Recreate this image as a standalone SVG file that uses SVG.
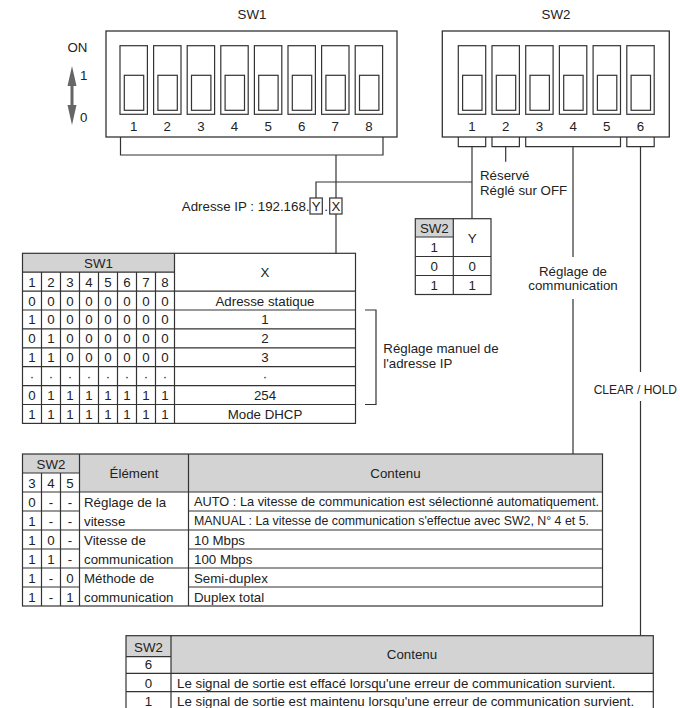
<svg xmlns="http://www.w3.org/2000/svg" xmlns:xlink="http://www.w3.org/1999/xlink" width="680" height="708" viewBox="0 0 680 708">
<style>
.t{font-family:"Liberation Sans",Arial,sans-serif;font-size:13.3px;fill:#222}
.s{font-size:12.6px}
.c{text-anchor:middle}
.e{text-anchor:end}
.ln{fill:none;stroke:#333;stroke-width:1.2}
.bx{fill:#fff;stroke:#333;stroke-width:1.3}
.hd{fill:#d3d3d3}
</style>
<defs>
<g id="dip">
<rect x="0" y="0" width="27.4" height="68.6" class="ln"/>
<rect x="4.3" y="29.6" width="19.4" height="35" class="ln"/>
</g>
</defs>
<rect width="680" height="708" fill="#fff"/>

<g id="indicator">
<text class="t" x="67.5" y="52">ON</text>
<polygon points="72,66 76.5,86 73.5,86 73.5,105 76.5,105 72,125 67.5,105 70.5,105 70.5,86 67.5,86" fill="#666"/>
<text class="t" x="80" y="80">1</text>
<text class="t" x="80" y="122">0</text>
</g>

<g id="sw1">
<text class="t c" x="252" y="19">SW1</text>
<rect x="106" y="31" width="291" height="106" class="bx"/>
<use xlink:href="#dip" x="120" y="45.7"/>
<use xlink:href="#dip" x="153.6" y="45.7"/>
<use xlink:href="#dip" x="187.2" y="45.7"/>
<use xlink:href="#dip" x="220.8" y="45.7"/>
<use xlink:href="#dip" x="254.4" y="45.7"/>
<use xlink:href="#dip" x="288" y="45.7"/>
<use xlink:href="#dip" x="321.6" y="45.7"/>
<use xlink:href="#dip" x="355.2" y="45.7"/>
<g class="t c">
<text x="133.7" y="131">1</text><text x="167.3" y="131">2</text><text x="200.9" y="131">3</text><text x="234.5" y="131">4</text>
<text x="268.1" y="131">5</text><text x="301.7" y="131">6</text><text x="335.3" y="131">7</text><text x="368.9" y="131">8</text>
</g>
</g>

<g id="sw2">
<text class="t c" x="556" y="19">SW2</text>
<rect x="442.3" y="31" width="227" height="106" class="bx"/>
<use xlink:href="#dip" x="458.3" y="45.7"/>
<use xlink:href="#dip" x="492" y="45.7"/>
<use xlink:href="#dip" x="525.7" y="45.7"/>
<use xlink:href="#dip" x="559.4" y="45.7"/>
<use xlink:href="#dip" x="593.1" y="45.7"/>
<use xlink:href="#dip" x="626.8" y="45.7"/>
<g class="t c">
<text x="472" y="131">1</text><text x="505.7" y="131">2</text><text x="539.4" y="131">3</text>
<text x="573.1" y="131">4</text><text x="606.8" y="131">5</text><text x="640.5" y="131">6</text>
</g>
</g>

<g id="connectors" class="ln">
<path d="M120.5,137 V155 H383 V137"/>
<path d="M336,155 V198"/>
<path d="M336,214 V253.3"/>
<path d="M316,198 V182 H472"/>
<path d="M458.3,137 V146.7 H485.7 V137"/>
<path d="M492,137 V146.7 H519.4 V137"/>
<path d="M525.7,137 V146.7 H620.5 V137"/>
<path d="M626.8,137 V146.7 H654.2 V137"/>
<path d="M472,146.7 V218.7"/>
<path d="M505.7,146.7 V161.7"/>
<path d="M573,146.7 V257 M573,299 V454"/>
<path d="M640.5,146.7 V372 M640.5,401 V635.7"/>
<path d="M365,310 H376 V404.5 H365"/>
</g>

<g id="ip-address">
<text class="t e" x="309.5" y="211">Adresse IP : 192.168.</text>
<rect x="310" y="198" width="12.3" height="16" class="ln"/>
<text class="t c" x="316.2" y="211">Y</text>
<text class="t c" x="326" y="211">.</text>
<rect x="329.7" y="198" width="12.3" height="16" class="ln"/>
<text class="t c" x="335.9" y="211">X</text>
</g>

<g id="labels">
<text class="t" x="480" y="180">Réservé</text>
<text class="t" x="480" y="195">Réglé sur OFF</text>
<text class="t c" x="573" y="276">Réglage de</text>
<text class="t c" x="573" y="290">communication</text>
<text class="t" x="383.3" y="353">Réglage manuel de</text>
<text class="t" x="383.3" y="368">l'adresse IP</text>
<text class="t e" x="677" y="394" style="font-size:12px">CLEAR / HOLD</text>
</g>

<g id="table-y">
<rect x="415.3" y="218.7" width="38" height="18.3" class="hd"/>
<rect x="415.3" y="218.7" width="75.7" height="75.8" class="ln"/>
<path class="ln" d="M453.3,218.7 V294.5 M415.3,237 H453.3 M415.3,256.5 H491 M415.3,275.5 H491"/>
<g class="t c">
<text x="434.3" y="233">SW2</text>
<text x="434.3" y="252">1</text>
<text x="472.2" y="242.5">Y</text>
<text x="434.3" y="271">0</text><text x="472.2" y="271">0</text>
<text x="434.3" y="290">1</text><text x="472.2" y="290">1</text>
</g>
</g>

<g id="table-sw1">
<rect x="22.5" y="253.3" width="152" height="18.9" class="hd"/>
<rect x="22.5" y="253.3" width="333" height="170.1" class="ln"/>
<path class="ln" d="M22.5,272.2 H174.5 M22.5,291.1 H355.5 M22.5,310 H355.5 M22.5,328.9 H355.5 M22.5,347.8 H355.5 M22.5,366.7 H355.5 M22.5,385.6 H355.5 M22.5,404.5 H355.5 M174.5,253.3 V423.4 M41.5,272.2 V423.4 M60.5,272.2 V423.4 M79.5,272.2 V423.4 M98.5,272.2 V423.4 M117.5,272.2 V423.4 M136.5,272.2 V423.4 M155.5,272.2 V423.4"/>
<g class="t c">
<text x="98.5" y="267.8">SW1</text>
<text x="265" y="277">X</text>
<text y="286.6"><tspan x="32">1</tspan><tspan x="51">2</tspan><tspan x="70">3</tspan><tspan x="89">4</tspan><tspan x="108">5</tspan><tspan x="127">6</tspan><tspan x="146">7</tspan><tspan x="165">8</tspan></text>
<text y="305.5"><tspan x="32">0</tspan><tspan x="51">0</tspan><tspan x="70">0</tspan><tspan x="89">0</tspan><tspan x="108">0</tspan><tspan x="127">0</tspan><tspan x="146">0</tspan><tspan x="165">0</tspan></text>
<text y="324.4"><tspan x="32">1</tspan><tspan x="51">0</tspan><tspan x="70">0</tspan><tspan x="89">0</tspan><tspan x="108">0</tspan><tspan x="127">0</tspan><tspan x="146">0</tspan><tspan x="165">0</tspan></text>
<text y="343.3"><tspan x="32">0</tspan><tspan x="51">1</tspan><tspan x="70">0</tspan><tspan x="89">0</tspan><tspan x="108">0</tspan><tspan x="127">0</tspan><tspan x="146">0</tspan><tspan x="165">0</tspan></text>
<text y="362.2"><tspan x="32">1</tspan><tspan x="51">1</tspan><tspan x="70">0</tspan><tspan x="89">0</tspan><tspan x="108">0</tspan><tspan x="127">0</tspan><tspan x="146">0</tspan><tspan x="165">0</tspan></text>
<text y="381.1"><tspan x="32">·</tspan><tspan x="51">·</tspan><tspan x="70">·</tspan><tspan x="89">·</tspan><tspan x="108">·</tspan><tspan x="127">·</tspan><tspan x="146">·</tspan><tspan x="165">·</tspan></text>
<text y="400"><tspan x="32">0</tspan><tspan x="51">1</tspan><tspan x="70">1</tspan><tspan x="89">1</tspan><tspan x="108">1</tspan><tspan x="127">1</tspan><tspan x="146">1</tspan><tspan x="165">1</tspan></text>
<text y="418.9"><tspan x="32">1</tspan><tspan x="51">1</tspan><tspan x="70">1</tspan><tspan x="89">1</tspan><tspan x="108">1</tspan><tspan x="127">1</tspan><tspan x="146">1</tspan><tspan x="165">1</tspan></text>
<text x="265" y="305.5">Adresse statique</text>
<text x="265" y="324.4">1</text>
<text x="265" y="343.3">2</text>
<text x="265" y="362.2">3</text>
<text x="265" y="381.1">·</text>
<text x="265" y="400">254</text>
<text x="265" y="418.9">Mode DHCP</text>
</g>
</g>

<g id="table-sw2">
<rect x="22.5" y="454" width="57" height="19" class="hd"/>
<rect x="79.5" y="454" width="523" height="38" class="hd"/>
<rect x="22.5" y="454" width="580" height="152" class="ln"/>
<path class="ln" d="M22.5,473 H79.5 M22.5,492 H602.5 M22.5,511 H79.5 M188.5,511 H602.5 M22.5,530 H602.5 M22.5,549 H79.5 M188.5,549 H602.5 M22.5,568 H602.5 M22.5,587 H79.5 M188.5,587 H602.5 M41.5,473 V606 M60.5,473 V606 M79.5,454 V606 M188.5,454 V606"/>
<g class="t c">
<text x="51" y="468.5">SW2</text>
<text x="134" y="477.5">Élément</text>
<text x="395.5" y="477.5">Contenu</text>
<text y="487.5"><tspan x="32">3</tspan><tspan x="51">4</tspan><tspan x="70">5</tspan></text>
<text y="506.5"><tspan x="32">0</tspan><tspan x="51">-</tspan><tspan x="70">-</tspan></text>
<text y="525.5"><tspan x="32">1</tspan><tspan x="51">-</tspan><tspan x="70">-</tspan></text>
<text y="544.5"><tspan x="32">1</tspan><tspan x="51">0</tspan><tspan x="70">-</tspan></text>
<text y="563.5"><tspan x="32">1</tspan><tspan x="51">1</tspan><tspan x="70">-</tspan></text>
<text y="582.5"><tspan x="32">1</tspan><tspan x="51">-</tspan><tspan x="70">0</tspan></text>
<text y="601.5"><tspan x="32">1</tspan><tspan x="51">-</tspan><tspan x="70">1</tspan></text>
</g>
<g class="t">
<text x="84" y="506.5">Réglage de la</text>
<text x="84" y="525.5">vitesse</text>
<text x="84" y="544.5">Vitesse de</text>
<text x="84" y="563.5">communication</text>
<text x="84" y="582.5">Méthode de</text>
<text x="84" y="601.5">communication</text>
<text class="s" x="194" y="506" textLength="405" lengthAdjust="spacingAndGlyphs">AUTO : La vitesse de communication est sélectionné automatiquement.</text>
<text class="s" x="194" y="525" textLength="395" lengthAdjust="spacingAndGlyphs">MANUAL : La vitesse de communication s'effectue avec SW2, N° 4 et 5.</text>
<text x="194" y="544.5">10 Mbps</text>
<text x="194" y="563.5">100 Mbps</text>
<text x="194" y="582.5">Semi-duplex</text>
<text x="194" y="601.5">Duplex total</text>
</g>
</g>

<g id="table-sw6">
<rect x="126" y="635.7" width="45" height="21" class="hd"/>
<rect x="171" y="635.7" width="482.3" height="37.6" class="hd"/>
<rect x="126" y="635.7" width="527.3" height="76" class="ln"/>
<path class="ln" d="M126,656.7 H171 M126,673.3 H653.3 M126,691.7 H653.3 M171,635.7 V711.7"/>
<g class="t c">
<text x="148.5" y="651.5">SW2</text>
<text x="148.5" y="668.5">6</text>
<text x="412" y="659">Contenu</text>
<text x="148.5" y="687.5">0</text>
<text x="148.5" y="705.5">1</text>
</g>
<g class="t">
<text x="177" y="687.5">Le signal de sortie est effacé lorsqu'une erreur de communication survient.</text>
<text x="177" y="705.5">Le signal de sortie est maintenu lorsqu'une erreur de communication survient.</text>
</g>
</g>
</svg>
